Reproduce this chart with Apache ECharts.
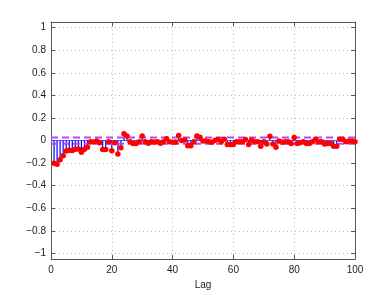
<!DOCTYPE html>
<html>
<head>
<meta charset="utf-8">
<script src="https://cdn.jsdelivr.net/npm/echarts@6/dist/echarts.min.js"></script>
<style>
  html, body { margin: 0; padding: 0; background: #fff; }
  #chart { width: 392px; height: 295px; }
</style>
</head>
<body>
<div id="chart"></div>
<script>
// lags 1..100, sample autocorrelation
var lags = [];
for (var i = 1; i <= 100; i++) lags.push(i);
var acf = [
  -0.20, -0.21, -0.17, -0.135, -0.093, -0.085, -0.088, -0.078, -0.075, -0.104,
  -0.078, -0.06, -0.01, -0.012, -0.005, -0.02, -0.08, -0.08, -0.01, -0.09,
  -0.02, -0.12, -0.063, 0.06, 0.04, -0.01, -0.026, -0.026, -0.01, 0.04,
  -0.01, -0.025, -0.01, -0.012, -0.01, -0.025, -0.01, 0.017, -0.01, -0.015,
  -0.012, 0.045, 0.0, 0.005, -0.045, -0.045, -0.01, 0.04, 0.03, -0.003,
  -0.003, -0.01, -0.016, 0.003, 0.01, -0.01, 0.012, -0.035, -0.035, -0.035,
  -0.01, -0.01, -0.01, 0.01, -0.035, 0.003, -0.01, -0.01, -0.05, -0.01,
  -0.03, 0.038, -0.03, -0.06, -0.003, -0.016, -0.01, -0.01, -0.026, 0.026,
  -0.026, -0.02, -0.01, -0.026, -0.026, -0.01, 0.012, -0.01, -0.01, -0.03,
  -0.026, -0.026, -0.05, -0.05, 0.012, 0.012, -0.01, -0.005, -0.005, -0.01
];
var bound = 0.028;
var yTicks = [-1, -0.8, -0.6, -0.4, -0.2, 0, 0.2, 0.4, 0.6, 0.8, 1];

var chart = echarts.init(document.getElementById('chart'));

var font = 'Liberation Sans, Arial, sans-serif';
var boxColor = '#555';
var gridLine = { show: true, lineStyle: { color: '#bbb', type: [1, 3], width: 1 } };

function yAx(pos, labels) {
  return {
    type: 'value', position: pos, min: -1.05, max: 1.05,
    axisLine: { show: true, onZero: false, lineStyle: { color: boxColor, width: 1 } },
    axisTick: { show: true, inside: true, length: 4, customValues: yTicks, lineStyle: { color: boxColor } },
    axisLabel: {
      show: labels, customValues: yTicks, color: '#222', fontSize: 10, fontFamily: font, margin: 5,
      formatter: function (v) { return String(Math.round(v * 10) / 10).replace('-', '\u2212'); }
    },
    splitLine: labels ? gridLine : { show: false }
  };
}
function xAx(pos, labels) {
  return {
    type: 'value', position: pos, min: 0, max: 100, interval: 20,
    name: labels ? 'Lag' : '', nameLocation: 'middle', nameGap: 19,
    nameTextStyle: { color: '#222', fontSize: 10, fontFamily: font },
    axisLine: { show: true, onZero: false, lineStyle: { color: boxColor, width: 1 } },
    axisTick: { show: true, inside: true, length: 4, lineStyle: { color: boxColor } },
    axisLabel: { show: labels, color: '#222', fontSize: 10, fontFamily: font, margin: 6 },
    splitLine: labels ? gridLine : { show: false }
  };
}

var stemData = lags.map(function (l, i) { return [l, acf[i]]; });

var option = {
  backgroundColor: '#fff',
  animation: false,
  grid: { left: 51, right: 37, top: 22, bottom: 33 },
  xAxis: [xAx('bottom', true), xAx('top', false)],
  yAxis: [yAx('left', true), yAx('right', false)],
  series: [
    {
      // zero baseline
      type: 'line', data: [[0, 0], [100, 0]], symbol: 'none',
      lineStyle: { color: '#4466ee', width: 1 }, z: 1
    },
    {
      type: 'bar', data: stemData, barWidth: 1.2,
      itemStyle: { color: '#0000ff' }, z: 2
    },
    {
      type: 'line', data: [[0, bound], [100, bound]], symbol: 'none',
      lineStyle: { color: '#c040ff', width: 2, type: [7, 4] }, z: 3
    },
    {
      type: 'line', data: [[0, -bound], [100, -bound]], symbol: 'none',
      lineStyle: { color: '#c040ff', width: 2, type: [7, 4] }, z: 3
    },
    {
      type: 'scatter', data: stemData, symbol: 'circle', symbolSize: 5.5,
      itemStyle: { color: '#ff0000', opacity: 1 }, z: 4
    }
  ]
};

chart.setOption(option);
</script>
</body>
</html>
